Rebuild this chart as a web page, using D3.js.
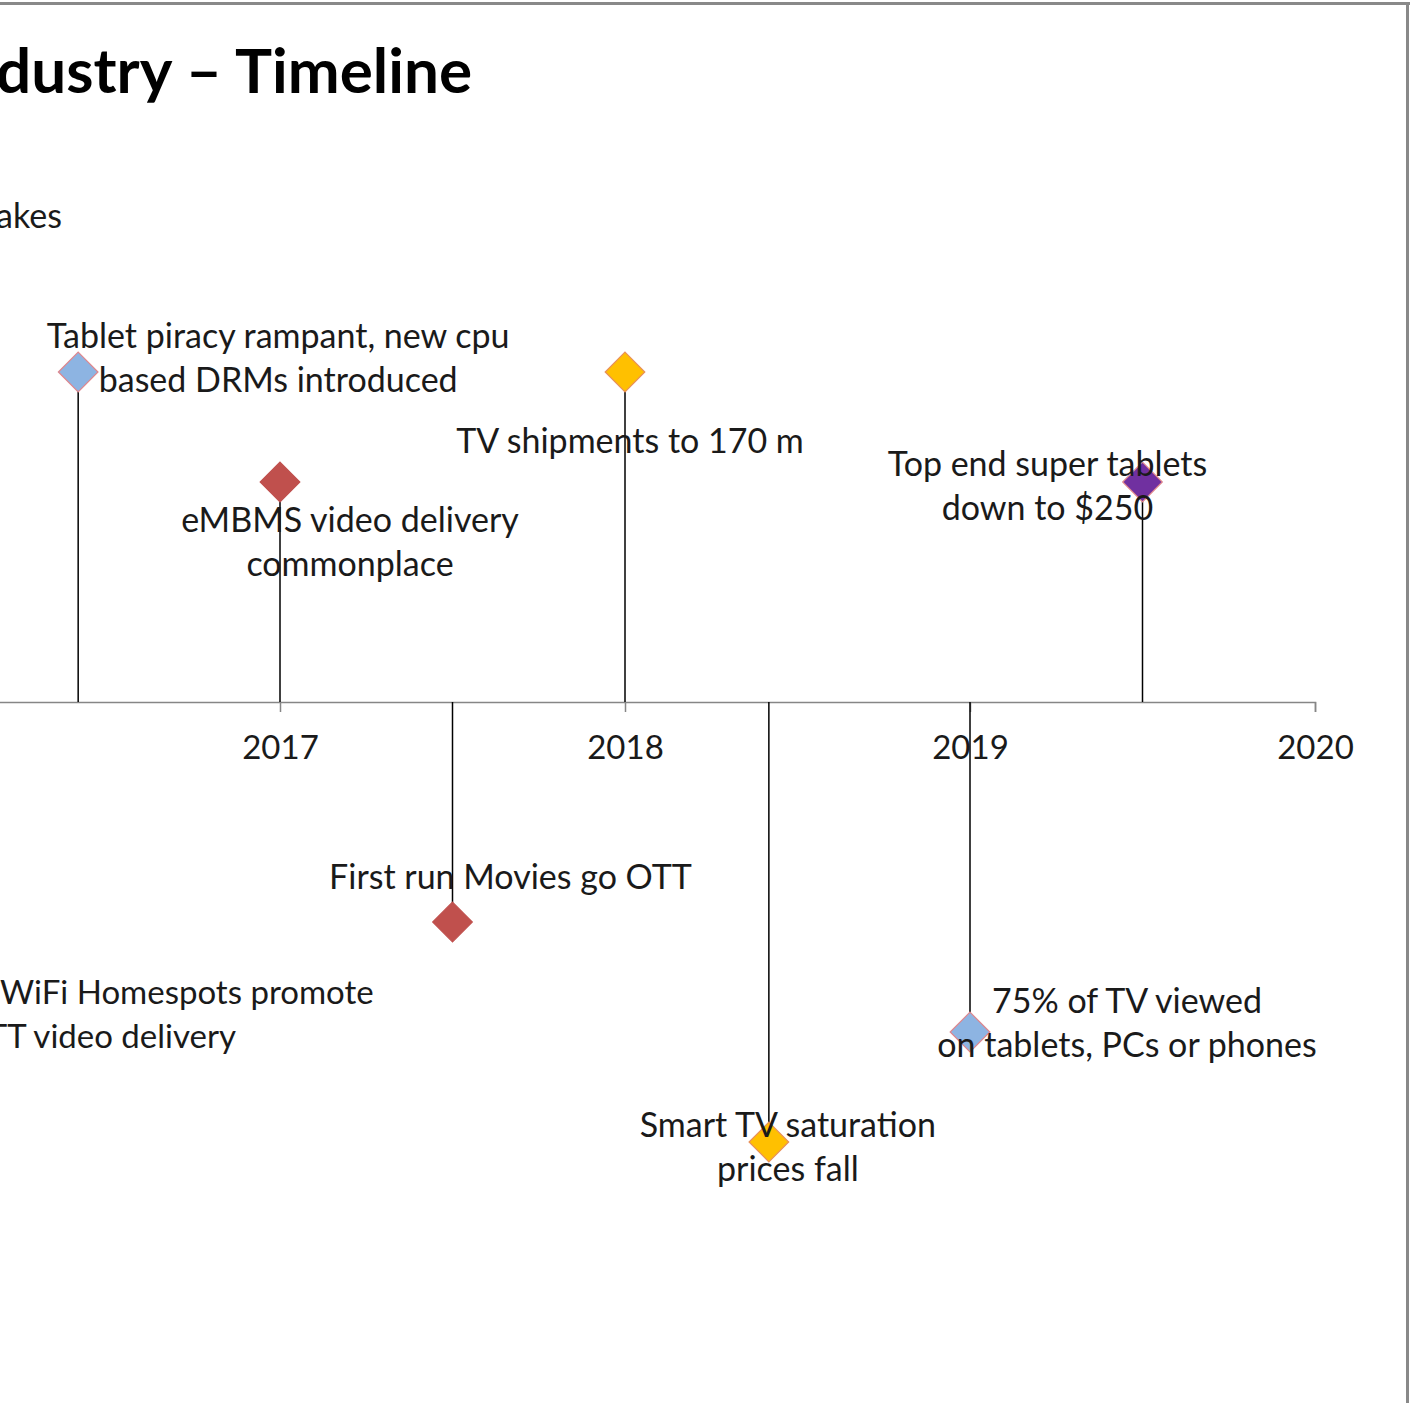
<!DOCTYPE html>
<html>
<head>
<meta charset="utf-8">
<script src="https://cdn.jsdelivr.net/npm/d3@7"></script>
<style>
  html, body { margin: 0; padding: 0; background: #fff; overflow: hidden; }
  svg { display: block; font-family: Lato, "Open Sans", sans-serif; }
</style>
</head>
<body>
<svg width="1410" height="1403"></svg>
<script>
// timeline data
const years = [2017, 2018, 2019, 2020];
const eventDates = [2016.415, 2017.0, 2017.5, 2018.0, 2018.417, 2019.0, 2019.5];
const eventLevels = [3, 2, -2, 3, -4, -3, 2];
const eventLabels = [
    ["Tablet piracy rampant, new cpu", "based DRMs introduced"],
    ["eMBMS video delivery", "commonplace"],
    ["First run Movies go OTT"],
    ["TV shipments to 170 m"],
    ["Smart TV saturation", "prices fall"],
    ["75% of TV viewed", "on tablets, PCs or phones"],
    ["Top end super tablets", "down to $250"]
];
const eventColors = ["#8DB4E2", "#C0504D", "#C0504D", "#FFC000", "#FFC000", "#8DB4E2", "#7030A0"];

const practice = function () {
    const svg = d3.select('svg');
    const width = +svg.attr('width');
    const height = +svg.attr('height');
    const fontSize = 34;
    const lineH = 44;

    // label placement, relative to the marker (layout only)
    const labelOffsets = [[200, -24], [70, 50], [58, -33], [5, 81], [19, -5], [157, -19], [-95, -6]];
    const strokeColors = ["#E0868C", "#C0504D", "#C0504D", "#E8905A", "#E8905A", "#E0868C", "#E0868C"];

    const events = eventDates.map((d, i) => ({
        date: d, level: eventLevels[i], label: eventLabels[i], color: eventColors[i],
        stroke: strokeColors[i], off: labelOffsets[i]
    }));

    const xScale = d3.scaleLinear()
        .domain([2016, 2020])
        .range([-65, 1315]);

    const yScale = d3.scaleLinear()
        .domain([-4, 3])
        .range([1142, 372]);

    // frame edges (the picture is a crop of a slide)
    svg.append('line').attr('x1', 0).attr('x2', width).attr('y1', 3.5).attr('y2', 3.5)
        .attr('stroke', '#898989').attr('stroke-width', 3);
    svg.append('line').attr('x1', 1407.5).attr('x2', 1407.5).attr('y1', 2).attr('y2', height)
        .attr('stroke', '#898989').attr('stroke-width', 3);

    // title and cut-off slide text
    svg.append('text')
        .attr('x', 472).attr('y', 93)
        .attr('text-anchor', 'end')
        .attr('font-size', 62).attr('font-weight', 'bold')
        .attr('fill', '#000')
        .text('Industry \u2013 Timeline');

    svg.append('text')
        .attr('x', -4).attr('y', 228)
        .attr('font-size', fontSize).attr('fill', '#1a1a1a')
        .text('akes');

    const xAxis = g => g
        .attr('transform', `translate(0,${yScale(0)})`)
        .call(d3.axisBottom(xScale).tickValues(years).tickFormat(d3.format('d'))
            .tickSize(10).tickSizeOuter(10).tickPadding(24))
        .call(g => g.selectAll('.domain').attr('stroke', '#868686').attr('stroke-width', 1.5))
        .call(g => g.selectAll('.tick line').attr('stroke', '#868686').attr('stroke-width', 1.5))
        .call(g => g.selectAll('.tick text')
            .attr('font-family', 'Lato, "Open Sans", sans-serif')
            .attr('font-size', 33).attr('fill', '#1a1a1a'));

    svg.append('g').call(xAxis);

    // stems
    svg.append('g')
        .selectAll('line')
        .data(events)
        .join('line')
            .attr('x1', d => xScale(d.date))
            .attr('x2', d => xScale(d.date))
            .attr('y1', d => yScale(d.level))
            .attr('y2', yScale(0))
            .attr('stroke', '#000')
            .attr('stroke-width', 1.5);

    // diamonds
    const diamond = d3.symbol().type(d3.symbolDiamond2).size(1000);
    svg.append('g')
        .selectAll('path')
        .data(events)
        .join('path')
            .attr('d', diamond)
            .attr('transform', d => `translate(${xScale(d.date)},${yScale(d.level)})`)
            .attr('fill', d => d.color)
            .attr('stroke', d => d.stroke)
            .attr('stroke-width', 1.2);

    // labels
    const labels = svg.append('g')
        .selectAll('text')
        .data(events)
        .join('text')
            .attr('text-anchor', 'middle')
            .attr('font-size', fontSize)
            .attr('fill', '#1a1a1a')
            .attr('x', d => xScale(d.date) + d.off[0])
            .attr('y', d => yScale(d.level) + d.off[1]);

    labels.selectAll('tspan')
        .data(d => d.label.map((t, i) => ({ t, i, x: xScale(d.date) + d.off[0] })))
        .join('tspan')
            .attr('x', d => d.x)
            .attr('dy', d => d.i === 0 ? 0 : lineH)
            .text(d => d.t);

    // cut-off label at the left edge
    const cut = svg.append('text')
        .attr('font-size', 33).attr('fill', '#1a1a1a');
    cut.append('tspan').attr('x', 0).attr('y', 1004).text('WiFi Homespots promote');
    cut.append('tspan').attr('x', 236).attr('y', 1048).attr('text-anchor', 'end').text('OTT video delivery');
};

practice();
</script>
</body>
</html>
